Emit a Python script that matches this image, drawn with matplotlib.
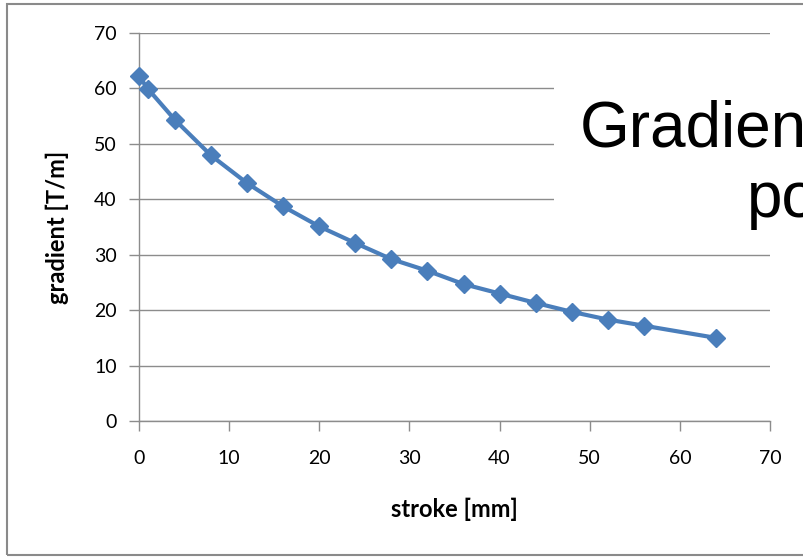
import matplotlib
matplotlib.use('Agg')
import matplotlib.pyplot as plt
from matplotlib.patches import Rectangle

# Data
stroke_mm = [0, 1, 4, 8, 12, 16, 20, 24, 28, 32, 36, 40, 44, 48, 52, 56, 64]
gradient_tm = [62.2, 59.9, 54.3, 47.9, 42.9, 38.7, 35.1, 32.1, 29.2, 27.1,
               24.7, 23.0, 21.3, 19.7, 18.3, 17.2, 15.0]
x_ticks = [0, 10, 20, 30, 40, 50, 60, 70]
y_ticks = [0, 10, 20, 30, 40, 50, 60, 70]

LINE_COLOR = '#4A7EBB'
GRID_COLOR = '#8C8C8C'
TICK_FONT = 'Lato'

fig = plt.figure(figsize=(8.04, 5.57), dpi=100)
ax = fig.add_axes([139 / 804, 1 - 421 / 557, 631 / 804, 388 / 557])

ax.plot(stroke_mm, gradient_tm, color=LINE_COLOR, linewidth=3,
        marker='D', markersize=9, markerfacecolor=LINE_COLOR,
        markeredgecolor=LINE_COLOR, clip_on=False, zorder=3)

ax.set_xlim(0, 70)
ax.set_ylim(0, 70)
ax.set_xticks(x_ticks)
ax.set_yticks(y_ticks)
ax.set_xticklabels([str(t) for t in x_ticks], fontsize=14, family=TICK_FONT)
ax.set_yticklabels([str(t) for t in y_ticks], fontsize=14, family=TICK_FONT)
ax.tick_params(axis='both', direction='out', length=7, width=1,
               color=GRID_COLOR, labelcolor='black')
ax.tick_params(axis='x', pad=14)
ax.tick_params(axis='y', pad=9)

ax.yaxis.grid(True, color=GRID_COLOR, linewidth=1)
ax.set_axisbelow(True)
for side in ['top', 'right']:
    ax.spines[side].set_visible(False)
for side in ['left', 'bottom']:
    ax.spines[side].set_color(GRID_COLOR)
    ax.spines[side].set_linewidth(1)

ax.set_xlabel('stroke [mm]', fontsize=17, fontweight='bold', family=TICK_FONT,
              labelpad=22)
ax.set_ylabel('gradient [T/m]', fontsize=17, fontweight='bold', family=TICK_FONT,
              labelpad=18)

# outer chart border (right side runs off the picture)
fig.add_artist(Rectangle((7 / 804, 1 - 555 / 557), 1.0, 551 / 557,
                         transform=fig.transFigure, fill=False,
                         edgecolor='#8A8A8A', linewidth=1.5, zorder=1))

# white title box overlapping the plot on the right
fig.add_artist(Rectangle((554 / 804, 1 - 250 / 557), 1.0, 210 / 557,
                         transform=fig.transFigure, facecolor='white',
                         edgecolor='none', zorder=2))
fig.text(580 / 804, 1 - 147 / 557, 'Gradien', fontsize=46,
         family='Liberation Sans', ha='left', va='baseline', zorder=3)
fig.text(747 / 804, 1 - 217 / 557, 'po', fontsize=46,
         family='Liberation Sans', ha='left', va='baseline', zorder=3)

fig.savefig('out.png', dpi=100)
